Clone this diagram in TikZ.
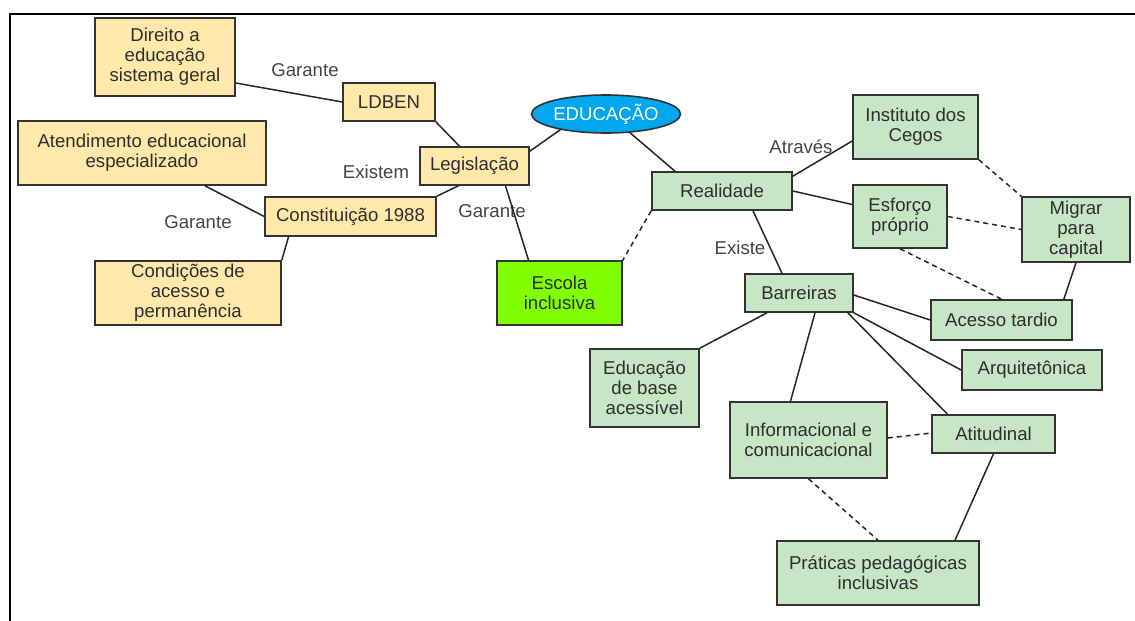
\documentclass[tikz,border=0pt]{standalone}
\usepackage{fontspec}
\setmainfont{Liberation Sans}
\usetikzlibrary{shapes.geometric}
\definecolor{amarelo}{HTML}{FFE8AA}
\definecolor{verdeclaro}{HTML}{C6E6C6}
\definecolor{verdevivo}{HTML}{80FF00}
\definecolor{azul}{HTML}{00A6EE}
\definecolor{borda}{HTML}{333333}
\definecolor{rotulo}{HTML}{444444}
\begin{document}
\begin{tikzpicture}[x=1pt,y=-1pt]
\tikzset{caixa/.style={rectangle,draw=borda,line width=1.6pt,inner sep=0pt,align=center,text=black!82,font=\fontsize{18.6}{20}\selectfont},
  amar/.style={caixa,fill=amarelo},
  verde/.style={caixa,fill=verdeclaro},
  lig/.style={line width=1.5pt,draw=black!85},
  trac/.style={lig,dash pattern=on 5pt off 4pt},
  rot/.style={text=rotulo,inner sep=0pt,font=\fontsize{18.6}{20}\selectfont}}

\useasboundingbox (0,0) rectangle (1135,621);
\draw[line width=2.5pt] (10,621) -- (10,14) -- (1135,14);

  % lado da legislacao
  \draw (165,57) node[amar,minimum width=140pt,minimum height=78pt](direito) {Direito a\\educação\\sistema geral};
  \draw (389,102) node[amar,minimum width=92pt,minimum height=38pt](ldben) {LDBEN};
  \draw (142,153) node[amar,minimum width=248pt,minimum height=64pt](atend) {Atendimento educacional\\especializado};
  \draw (474.5,166) node[amar,minimum width=109pt,minimum height=38pt](legis) {Legislação};
  \draw (350.5,216.5) node[amar,minimum width=171pt,minimum height=39pt](constit) {Constituição 1988};
  \draw (188,293) node[amar,minimum width=186pt,minimum height=64pt](condic) {Condições de\\acesso e\\permanência};

  \draw (606,114) node[ellipse,draw=borda,line width=1.6pt,fill=azul,text=white,inner sep=0pt,minimum width=124pt,minimum height=38pt,font=\fontsize{18.6}{20}\selectfont](educ) {EDUCAÇÃO};
  \draw (559.5,293) node[caixa,fill=verdevivo,minimum width=125pt,minimum height=64pt](escola) {Escola\\inclusiva};

  % lado da realidade
  \draw (722,191) node[verde,minimum width=140pt,minimum height=38pt](realid) {Realidade};
  \draw (915.5,127) node[verde,minimum width=125pt,minimum height=64pt](instit) {Instituto dos\\Cegos};
  \draw (900,216.5) node[verde,minimum width=94pt,minimum height=63pt](esforco) {Esforço\\próprio};
  \draw (1076,229.5) node[verde,minimum width=108pt,minimum height=65pt](migrar) {Migrar\\para\\capital};
  \draw (799,293) node[verde,minimum width=108pt,minimum height=38pt](barr) {Barreiras};
  \draw (1001.5,320) node[verde,minimum width=141pt,minimum height=40pt](acesso) {Acesso tardio};
  \draw (1032,370) node[verde,minimum width=140pt,minimum height=40pt](arquit) {Arquitetônica};
  \draw (644.5,388) node[verde,minimum width=109pt,minimum height=78pt](edbase) {Educação\\de base\\acessível};
  \draw (808.5,440) node[verde,minimum width=157pt,minimum height=76pt](inform) {Informacional e\\comunicacional};
  \draw (993.5,434) node[verde,minimum width=123pt,minimum height=38pt](atitud) {Atitudinal};
  \draw (878,573) node[verde,minimum width=202pt,minimum height=64pt](pratic) {Práticas pedagógicas\\inclusivas};

  % rotulos
  \draw (305,70) node[rot](garA) {Garante};
  \draw (376,172) node[rot](existem) {Existem};
  \draw (198,222) node[rot](garB) {Garante};
  \draw (492,211) node[rot](garC) {Garante};
  \draw (801,147) node[rot](atraves) {Através};
  \draw (740,248) node[rot](existe) {Existe};

	\draw[lig] ([yshift=-26pt]direito.east) -- (ldben.west);
	\draw[lig] (ldben.south east) -- ([xshift=-15pt]legis.north);
	\draw[lig] ([xshift=-16pt]legis.south) -- (constit.north east);
	\draw[lig] ([yshift=-5pt]legis.north east) -- (educ.199);
	\draw[lig] ([xshift=31pt]legis.south) -- ([xshift=-31pt]escola.north);
	\draw[lig] ([xshift=63pt]atend.south) -- (constit.west);
	\draw[lig] ([xshift=-62pt]constit.south) -- (condic.north east);

	\draw[lig] (educ.-38) -- ([xshift=-47pt]realid.north);
	\draw[trac] (realid.south west) -- (escola.north east);
	\draw[lig] ([yshift=-5pt]realid.north east) -- ([yshift=-14pt]instit.west);
	\draw[lig] (realid.east) -- ([yshift=12pt]esforco.west);
	\draw[lig] ([xshift=31pt]realid.south) -- ([xshift=-17pt]barr.north);

	\draw[trac] (instit.south east) -- (migrar.north west);
	\draw[trac] (esforco.east) -- (migrar.west);
	\draw[trac] (esforco.south) -- (acesso.north);
	\draw[lig] (migrar.south) -- ([xshift=-9pt]acesso.north east);

	\draw[lig] ([yshift=-2pt]barr.east) -- (acesso.west);
	\draw[lig] (barr.south east) -- (arquit.west);
	\draw[lig] ([xshift=-6pt]barr.south east) -- ([xshift=-46pt]atitud.north);
	\draw[lig] ([xshift=16pt]barr.south) -- ([xshift=-18pt]inform.north);
	\draw[lig] ([xshift=-32pt]barr.south) -- (edbase.north east);
	\draw[trac] ([yshift=2pt]inform.east) -- ([yshift=1pt]atitud.west);
	\draw[trac] (inform.south) -- (pratic.north);
	\draw[lig] (atitud.south) -- ([xshift=77pt]pratic.north);
\end{tikzpicture}
\end{document}
